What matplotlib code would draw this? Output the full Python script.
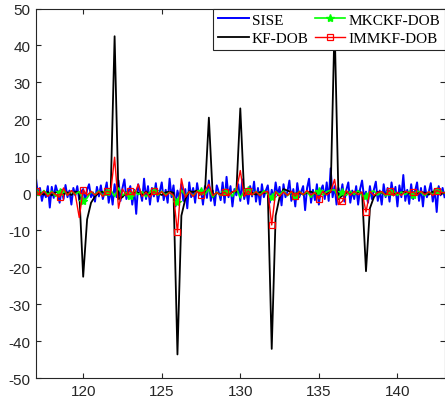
import numpy as np
import matplotlib
matplotlib.use("Agg")
import matplotlib.pyplot as plt

# ---------------- data ----------------
t_start, t_end = 117.0, 143.0
dt_fast, dt_slow = 0.125, 0.25

sise = [
    4.0, -0.5, 1.5, -2.0, 0.5, -1.0, 2.0, -3.8, 1.8, -1.2, 2.2, 0.3, -2.5, 1.0, -1.5, 2.3,
    -1.0, 0.8, -3.0, 1.5, -0.5, 2.0, -1.8, 0.5, 1.2, -2.0, 1.0, 2.5, -1.0, 0.3, -2.2, 1.8,
    -0.8, 2.2, -1.5, 0.5, 3.0, -2.5, 1.0, -3.0, 2.5, -1.0, 3.5, -2.0, 1.5, 3.8, -1.5, 0.5,
    2.0, -3.0, 1.0, -5.5, 2.5, 0.5, -2.0, 4.0, -1.5, 2.0, -3.0, 1.5, -0.8, 2.8, -2.2, 0.5,
    3.0, -1.8, 1.0, -2.5, 4.0, -1.0, 2.2, -3.5, 0.8, -1.5, 2.5, -2.0, 1.2, -4.0, 3.0, -1.0,
    1.5, -2.5, 2.8, -0.5, 1.0, -3.0, 2.0, -1.2, 3.5, -2.0, 0.8, -3.2, 2.2, 0.5, -1.8, 3.0,
    -2.5, 4.5, -1.0, 2.0, -3.5, 1.2, -0.5, 2.5, -2.0, 3.8, -1.5, 1.0, -2.8, 2.0, -0.8, 3.2,
    -2.2, 1.5, -3.0, 2.5, -1.0, 0.8, 2.2, -2.5, 1.0, -1.5, 3.0, -0.5, 1.8, -3.2, 2.5, -1.0,
    0.5, 3.5, -2.0, 1.2, -3.5, 2.8, -1.0, 0.5, 2.0, -4.5, 1.5, 4.0, -2.5, 1.0, -1.8, 2.5,
    -3.0, 1.0, 2.2, -1.5, 3.0, -2.0, 6.8, -1.0, 2.0, -3.0, 1.5, -0.8, 2.5, -2.2, 1.0, 3.0,
    -2.5, 0.8, -1.5, 2.0, -3.0, 1.2, 3.5, -1.0, 0.5, -2.5, 2.0, -1.5, 1.0, 3.2, -2.0, 0.8,
    -3.0, 2.5, -1.0, 1.5, -2.2, 3.0, -0.5, 1.8, -3.5, 2.2, -1.0, 5.0, -2.0, 1.0, -2.8, 2.5,
    -1.5, 0.8, 3.0, -2.0, 1.5, -3.5, 2.0, -1.0, 0.5, 2.8, -2.2, 1.2, -5.0, 2.0, -0.5, 1.5,
    -1.0,
]

kf_dob = [
    0.5, 0.2, -0.3, 0.4, -0.5, 0.3, 0.6, -0.2,
    0.3, -0.4, 0.5, 0.3, -22.5, -7.0, -2.5, -0.8,
    0.2, 0.5, -0.3, 0.4, 42.5, -1.5, -1.0, 0.3,
    -0.5, 0.4, 0.2, -0.3, 0.5, -0.2, 0.3, 0.1,
    -0.4, 0.3, 0.5, 0.2, -43.5, -6.0, -1.5, 0.6,
    0.4, 0.8, -0.2, 0.3, 20.5, -1.0, 0.2, -0.3,
    0.3, -0.2, 0.4, 0.5, 23.0, -0.5, 0.3, 0.2,
    -0.3, 0.4, 0.2, 0.3, -42.0, -6.0, -1.0, 1.2,
    0.8, 0.3, -0.2, 0.4, -0.3, 0.2, 0.5, -0.1,
    0.3, 0.5, -0.2, 0.4, 46.0, -1.5, -0.5, 0.2,
    0.3, -0.2, 0.4, 0.2, -21.0, -4.0, -1.0, 0.4,
    0.2, -0.3, 0.4, 0.1, -0.2, 0.3, 0.5, -0.1,
    0.3, -0.2, 0.4, 0.2, -0.3, 0.5, 0.1, -0.2,
    0.2,
]

mkckf_dob = [
    0.5, -0.5, 0.8, -0.3, 0.6, -0.8, 0.4, 0.9,
    -0.4, 0.6, -0.2, 0.5, -2.0, -1.2, 0.5, -0.3,
    0.7, -0.6, 0.4, 1.0, -0.8, 1.5, -0.5, 0.3,
    -0.6, 0.8, -0.3, 0.5, -0.9, 0.4, 0.7, -0.5,
    0.6, -0.4, 0.3, -0.8, -2.3, 0.9, -0.5, 0.4,
    -0.6, 0.5, 0.8, -0.3, 1.2, -1.0, 0.4, -0.6,
    0.5, 0.7, -0.8, 1.5, -1.2, 0.6, 0.9, -0.4,
    0.6, -0.5, 0.8, -0.2, -1.0, 0.5, -0.3, 0.7,
    -0.6, 0.4, -0.8, 0.6, -0.3, 0.5, -1.0, 0.3,
    0.7, -0.4, 0.5, 0.9, 1.0, -1.2, 0.4, -0.5,
    0.6, -0.3, 0.8, -0.6, -0.8, 0.4, 0.7, -0.4,
    0.5, -0.7, 0.3, 0.8, -0.5, 0.4, -0.3, 0.6,
    -0.4, 0.7, 0.3, -0.6, 0.5, -0.3, 0.8, 0.4,
    0.2,
]

immkf_dob = [
    0.8, -0.5, 0.6, -0.8, 0.4, -0.3, -1.0, 1.5,
    -0.5, 0.8, -0.3, -6.5, 1.0, -0.5, 0.6, -0.4,
    0.5, -0.8, 0.6, 0.3, 9.8, -4.0, 1.2, -0.6,
    0.8, -0.5, 2.5, -0.8, 0.4, -1.0, 0.6, -0.3,
    0.5, -0.7, 0.3, -0.5, -10.5, 4.0, -1.0, 0.5,
    -0.8, 0.6, -0.4, 0.8, 2.5, -0.6, 0.3, -0.5,
    0.4, -0.6, 0.5, 0.8, 6.2, -0.8, 0.7, -0.4,
    0.5, -0.6, 0.3, 0.6, -8.5, 0.5, -0.8, 0.4,
    -0.5, 0.6, -0.7, 0.5, -0.3, 0.8, -0.4, 0.3,
    -1.5, 0.6, -0.4, 0.5, 3.8, -3.0, -2.1, 0.8,
    -0.5, 0.6, -0.3, 0.4, -5.0, 0.6, -0.5, 0.3,
    0.5, -0.4, 0.8, -0.6, 0.3, -0.5, 0.6, 0.2,
    0.4, -0.5, 0.6, -0.3, 0.5, -0.6, 0.8, 0.3,
    0.2,
]

labels = ["SISE", "KF-DOB", "MKCKF-DOB", "IMMKF-DOB"]
x_ticks = [120, 125, 130, 135, 140]
y_ticks = [-50, -40, -30, -20, -10, 0, 10, 20, 30, 40, 50]

t_fast = t_start + dt_fast * np.arange(len(sise))
t_slow = t_start + dt_slow * np.arange(len(kf_dob))

# ---------------- figure ----------------
plt.rcParams["font.family"] = ["Liberation Sans", "DejaVu Sans"]
plt.rcParams["axes.unicode_minus"] = False
fig = plt.figure(figsize=(4.45, 4.06), dpi=100)
ax = fig.add_axes([0.081, 0.0653, 0.918, 0.9113])

ax.plot(t_fast, sise, color=(0, 0, 1), lw=1.4, label=labels[0])
ax.plot(t_slow, kf_dob, color="k", lw=1.3, label=labels[1])
ax.plot(t_slow, mkckf_dob, color=(0, 1, 0), lw=1.2, marker="*", ms=6,
        markevery=6, label=labels[2])
ax.plot(t_slow, immkf_dob, color=(1, 0, 0), lw=1.0, marker="s", ms=4.5,
        mfc="none", mec=(1, 0, 0), mew=0.9, markevery=6, label=labels[3])

ax.set_xlim(t_start, t_end)
ax.set_ylim(-50, 50)
ax.set_xticks(x_ticks)
ax.set_yticks(y_ticks)
ax.tick_params(direction="in", length=3.5, width=0.8, labelsize=11,
               top=True, right=True, colors="0.15", pad=4)
for s in ax.spines.values():
    s.set_color("0.15")
    s.set_linewidth(0.8)

leg = ax.legend(loc="upper right", ncol=2, borderaxespad=0,
                prop={"family": "Liberation Serif", "size": 11},
                handlelength=2.0, handletextpad=0.2, columnspacing=0.4,
                borderpad=0.3, labelspacing=0.3, fancybox=False,
                framealpha=1, edgecolor="0.15")
leg.get_frame().set_linewidth(0.8)

fig.savefig("out.png", dpi=100)
